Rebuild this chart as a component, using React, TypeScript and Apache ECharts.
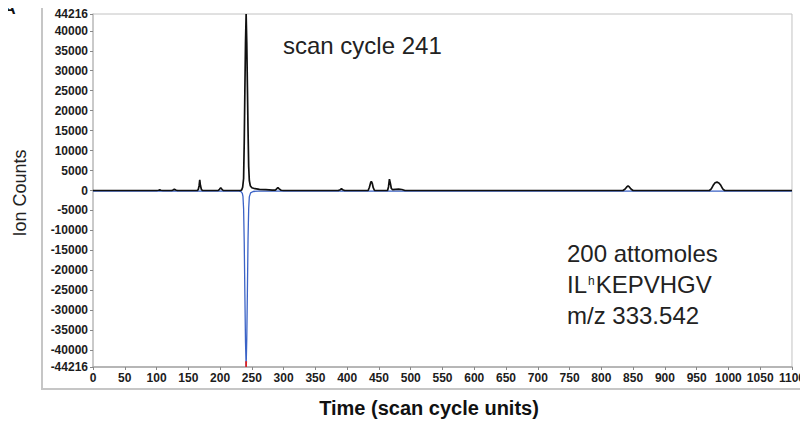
import React, { useEffect, useRef } from "react";
import * as echarts from "echarts";

// Upper trace (observed ion counts), [scan cycle, counts]
const upperTrace: [number, number][] = [
  [0, 0], [100, 0], [103, 60], [105, 150], [107, 60], [110, 0],
  [124, 0], [126, 120], [128, 330], [130, 120], [133, 0],
  [164, 0], [165.6, 200], [167, 1200], [168, 2700], [169, 1300], [170.5, 300], [172.3, 0],
  [197, 0], [199, 300], [201, 680], [203, 300], [205, 0],
  [232, 0], [234, 150], [235.5, 800], [237, 3000], [238, 12000], [239, 25000],
  [240, 37000], [241, 44216], [242, 37000], [243, 26000], [244, 15000],
  [245, 6000], [246, 2500], [247.5, 1200], [250, 700], [255, 450], [262, 300],
  [272, 200], [282, 100],
  [287, 80], [289, 400], [291, 750], [293, 400], [296, 60], [300, 0],
  [386, 0], [389, 200], [391, 420], [393, 200], [396, 0],
  [433, 0], [435, 800], [437, 2000], [438, 2260], [439.5, 1800], [441, 700], [443, 0],
  [463.5, 0], [465, 900], [466.5, 2850], [468, 1800], [469.5, 500], [471.5, 200],
  [476, 300], [481, 330], [486, 250], [491, 0],
  [834, 0], [837, 300], [840, 900], [842, 1180], [844, 900], [847, 300], [850, 0],
  [970, 0], [973, 400], [976, 1300], [979, 1950], [982, 2090], [985, 1900],
  [988, 1300], [991, 400], [994, 0],
  [1100, 0],
];

// Lower trace (reference, drawn mirrored below zero), [scan cycle, counts]
const lowerTrace: [number, number][] = [
  [0, -150], [230, -150], [233, -300], [235, -700], [236, -1500], [237, -4500],
  [238, -13000], [239, -26000], [240, -38000], [241, -44216], [242, -37000],
  [243, -25000], [244, -12000], [245, -4500], [246, -1600], [248, -600],
  [252, -250], [260, -150], [1100, -150],
];

// Apex marker of the lower trace
const lowerApex: [number, number][] = [
  [240.75, -42800], [241, -44216], [241.25, -42800],
];

// Axis ticks
const yTickValues = [
  -44216, -40000, -35000, -30000, -25000, -20000, -15000, -10000, -5000, 0,
  5000, 10000, 15000, 20000, 25000, 30000, 35000, 40000, 44216,
];
const xMin = 0;
const xMax = 1100;
const xStep = 50;

const FONT = "'Liberation Sans', Arial, Helvetica, sans-serif";

export default function App() {
  const ref = useRef<HTMLDivElement>(null);

  useEffect(() => {
    if (!ref.current) return;
    const chart = echarts.init(ref.current, undefined, { renderer: "svg" });

    const tickLabelStyle = {
      fontFamily: FONT,
      fontSize: 12,
      fontWeight: "bold" as const,
      color: "#1c1c1c",
    };

    chart.setOption({
      animation: false,
      backgroundColor: "#ffffff",
      grid: {
        left: 93,
        right: 11,
        top: 14,
        bottom: 57,
        show: true,
        borderColor: "#c2c2c2",
        borderWidth: 1,
      },
      xAxis: {
        type: "value",
        min: xMin,
        max: xMax,
        interval: xStep,
        axisLine: { show: true, onZero: false, lineStyle: { color: "#a8a8a8", width: 1.5 } },
        axisTick: { show: true, length: 3, lineStyle: { color: "#888" } },
        splitLine: { show: false },
        axisLabel: {
          ...tickLabelStyle,
          margin: 5,
          showMaxLabel: true,
          showMinLabel: true,
          formatter: (v: number) => String(v),
        },
      },
      yAxis: {
        type: "value",
        min: -44216,
        max: 44216,
        axisLine: { show: true, lineStyle: { color: "#c2c2c2", width: 1.5 } },
        axisTick: {
          show: true,
          length: 3,
          customValues: yTickValues,
          lineStyle: { color: "#888" },
        },
        splitLine: { show: false },
        axisLabel: {
          ...tickLabelStyle,
          margin: 5,
          customValues: yTickValues,
          formatter: (v: number) => String(v),
        },
      },
      series: [
        {
          type: "line",
          data: lowerTrace,
          showSymbol: false,
          symbol: "none",
          lineStyle: { color: "#3b63c6", width: 1.3 },
          z: 2,
        },
        {
          type: "line",
          data: lowerApex,
          showSymbol: false,
          symbol: "none",
          lineStyle: { color: "#e02020", width: 1.6 },
          z: 3,
        },
        {
          type: "line",
          data: upperTrace,
          showSymbol: false,
          symbol: "none",
          lineStyle: { color: "#101010", width: 1.7 },
          z: 4,
        },
      ],
      graphic: [
        {
          type: "rect",
          shape: { x: 42, y: 6, width: 800, height: 383 },
          style: { fill: "none", stroke: "#c6c6c6", lineWidth: 2 },
          silent: true,
          z: 0,
        },
        {
          type: "text",
          x: 4,
          y: 0,
          z: 10,
          style: {
            text: "A",
            fontFamily: FONT,
            fontSize: 16,
            fontWeight: "bold",
            fill: "#111111",
            align: "left",
            verticalAlign: "top",
          },
        },
        {
          type: "text",
          x: 20,
          y: 193,
          rotation: Math.PI / 2,
          style: {
            text: "Ion Counts",
            font: `18px ${FONT}`,
            fill: "#222",
            align: "center",
            verticalAlign: "middle",
          },
        },
        {
          type: "text",
          x: 429,
          y: 408,
          style: {
            text: "Time (scan cycle units)",
            font: `bold 20px ${FONT}`,
            fill: "#111",
            align: "center",
            verticalAlign: "middle",
          },
        },
        {
          type: "text",
          x: 283,
          y: 45,
          style: {
            text: "scan cycle 241",
            font: `24px ${FONT}`,
            fill: "#222",
            verticalAlign: "middle",
          },
        },
        {
          type: "text",
          x: 567,
          y: 253,
          style: {
            text: "200 attomoles",
            font: `24px ${FONT}`,
            fill: "#222",
            verticalAlign: "middle",
          },
        },
        {
          type: "text",
          x: 567,
          y: 284,
          style: {
            text: "{n|IL}{s|h}{n|KEPVHGV}",
            fill: "#222",
            verticalAlign: "middle",
            rich: {
              n: { fontFamily: FONT, fontSize: 24, fill: "#222" },
              s: {
                fontFamily: FONT,
                fontSize: 12,
                fill: "#222",
                verticalAlign: "top",
                padding: [3, 1, 0, 1],
              },
            },
          },
        },
        {
          type: "text",
          x: 567,
          y: 315,
          style: {
            text: "m/z 333.542",
            font: `24px ${FONT}`,
            fill: "#222",
            verticalAlign: "middle",
          },
        },
      ],
    });

    return () => {
      chart.dispose();
    };
  }, []);

  return <div ref={ref} style={{ width: 808, height: 424, marginLeft: -8, marginTop: -8 }} />;
}
